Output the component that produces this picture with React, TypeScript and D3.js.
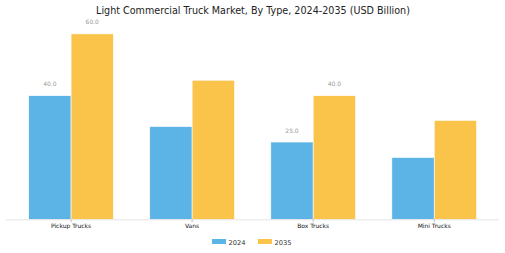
import React from "react";
import * as d3 from "d3";

const categories = ["Pickup Trucks", "Vans", "Box Trucks", "Mini Trucks"];
const values2024 = [40, 30, 25, 20];
const values2035 = [60, 45, 40, 32];
const seriesNames = ["2024", "2035"];
const labeledCategories = ["Pickup Trucks", "Box Trucks"];
const title = "Light Commercial Truck Market, By Type, 2024-2035 (USD Billion)";

const W = 505;
const H = 253;
const colors = ["#5cb3e6", "#fac44b"];
const font = "'DejaVu Sans', sans-serif";

export default function App() {
  const barW = 0.35;
  const x = d3.scaleLinear().domain([-0.535, 3.535]).range([6.3, 499]);
  const y = d3.scaleLinear().domain([0, 63]).range([219.3, 24.6]);
  const series = [values2024, values2035];
  const base = y(0);

  return (
    <svg width={W} height={H} style={{ position: "absolute", left: 0, top: 0 }} fontFamily={font}>
      <rect width={W} height={H} fill="#fff" />
      <text x={253} y={13.5} textAnchor="middle" fontSize={9.6} fill="#222">{title}</text>
      {categories.map((c, i) =>
        series.map((vals, s) => {
          const x0 = x(i + (s === 0 ? -barW : 0));
          const x1 = x(i + (s === 0 ? 0 : barW));
          return (
            <rect key={c + s} x={x0} y={y(vals[i])} width={x1 - x0} height={base - y(vals[i])}
              fill={colors[s]} stroke="#fff" strokeWidth={0.6} />
          );
        })
      )}
      {categories.map((c, i) =>
        labeledCategories.includes(c)
          ? series.map((vals, s) => (
              <text key={"l" + c + s} x={x(i + (s === 0 ? -barW / 2 : barW / 2))} y={y(vals[i]) - 9.5}
                textAnchor="middle" fontSize={6} fill="#999">{vals[i].toFixed(1)}</text>
            ))
          : null
      )}
      <line x1={x(-0.535)} x2={x(3.535)} y1={base + 0.5} y2={base + 0.5} stroke="#e3e3e3" strokeWidth={1} />
      {categories.map((c, i) => (
        <g key={"t" + c}>
          <line x1={x(i)} x2={x(i)} y1={base} y2={base + 3} stroke="#999" strokeWidth={0.6} />
          <text x={x(i)} y={base + 9} textAnchor="middle" fontSize={6} fill="#111">{c}</text>
        </g>
      ))}
      {seriesNames.map((n, s) => {
        const lx = 212 + s * 46;
        return (
          <g key={"lg" + n}>
            <rect x={lx} y={239} width={14} height={5} fill={colors[s]} />
            <text x={lx + 16.5} y={244.5} fontSize={6.7} fill="#333">{n}</text>
          </g>
        );
      })}
    </svg>
  );
}
